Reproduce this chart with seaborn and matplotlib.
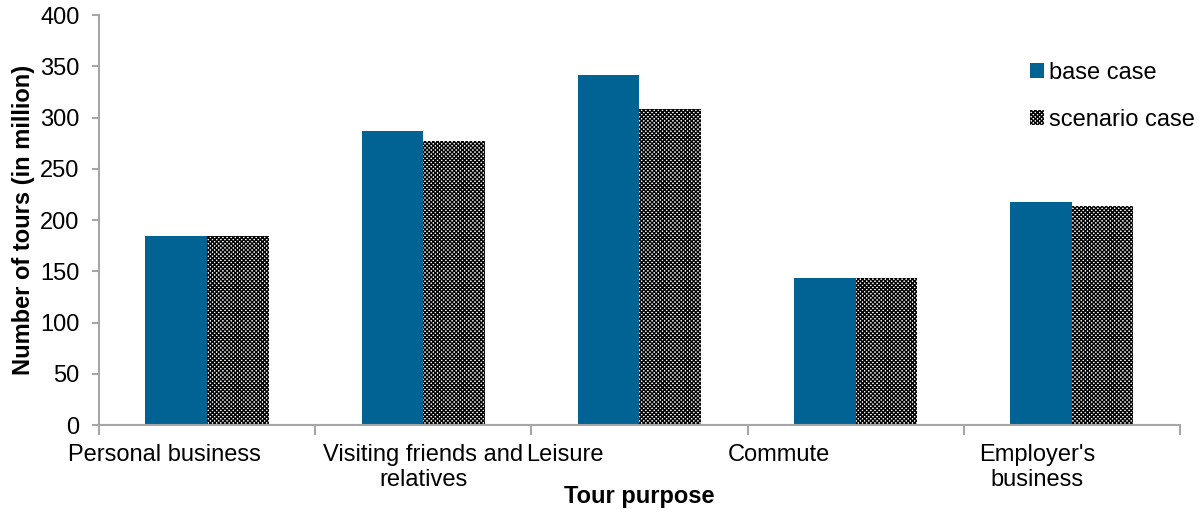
import matplotlib
matplotlib.use('Agg')
import matplotlib.pyplot as plt
import matplotlib.transforms as mtrans
import seaborn as sns
import pandas as pd
import numpy as np

# data
purposes = ['Personal business', 'Visiting friends and\nrelatives', 'Leisure',
            'Commute', "Employer's\nbusiness"]
base_case = [184, 287, 341, 143, 218]
scenario_case = [184, 277, 308, 143, 214]
series = ['base case', 'scenario case']

df = pd.DataFrame({
    'purpose': purposes * 2,
    'tours': base_case + scenario_case,
    'case': [series[0]] * len(purposes) + [series[1]] * len(purposes),
})

sns.set_style('white')
plt.rcParams['font.family'] = ['Liberation Sans', 'DejaVu Sans']
plt.rcParams['text.color'] = 'black'
plt.rcParams['xtick.color'] = 'black'
plt.rcParams['ytick.color'] = 'black'
plt.rcParams['axes.labelcolor'] = 'black'
plt.rcParams['hatch.linewidth'] = 1.0

fs = 17

fig = plt.figure(figsize=(12.01, 5.12), dpi=100)
ax = fig.add_axes([0.0824, 0.1699, 0.9001, 0.8008])

sns.barplot(data=df, x='purpose', y='tours', hue='case', order=purposes,
            hue_order=series, palette=['#006394', '#ffffff'], width=0.57,
            gap=0, saturation=1, linewidth=0, ax=ax, legend=False)

# checker pattern for scenario bars
for p in ax.containers[1]:
    p.set_facecolor('white')
    p.set_edgecolor('black')
    p.set_hatch('xxxxxxxx')
    p.set_linewidth(0)

ax.set_ylim(0, 400)
ax.set_xlim(-0.5, len(purposes) - 0.5)
ax.set_yticks(np.arange(0, 401, 50))

grey = '#a6a6a6'
for s in ['top', 'right']:
    ax.spines[s].set_visible(False)
for s in ['left', 'bottom']:
    ax.spines[s].set_color(grey)
    ax.spines[s].set_linewidth(1.5)

ax.tick_params(axis='y', direction='out', length=5, width=1.5, color=grey,
               labelsize=fs, pad=9, left=True)
ax.set_xticks(np.arange(-0.5, len(purposes)), minor=True)
ax.tick_params(axis='x', which='minor', direction='out', length=7, width=1.5,
               color=grey, bottom=True)
ax.tick_params(axis='x', which='major', length=0, labelsize=fs, pad=14)

# Excel shifted some category labels sideways
label_shift = [-43, 0, -75, -77, -35]
for lab, dx in zip(ax.get_xticklabels(), label_shift):
    lab.set_linespacing(1.15)
    lab.set_transform(lab.get_transform() +
                      mtrans.ScaledTranslation(dx / 100, 0, fig.dpi_scale_trans))

ax.set_xlabel('Tour purpose', fontsize=fs, fontweight='bold', labelpad=-4)
ax.set_ylabel('Number of tours (in million)', fontsize=fs, fontweight='bold',
              labelpad=4)

ax.legend(handles=[ax.containers[0][0], ax.containers[1][0]], labels=series,
          loc='upper left', bbox_to_anchor=(1018 / 1201, 1 - 50 / 512),
          bbox_transform=fig.transFigure, frameon=False, fontsize=fs,
          handlelength=0.6, handleheight=0.6, handletextpad=0.2,
          labelspacing=1.05, borderpad=0)

plt.savefig('out.png', dpi=100)
